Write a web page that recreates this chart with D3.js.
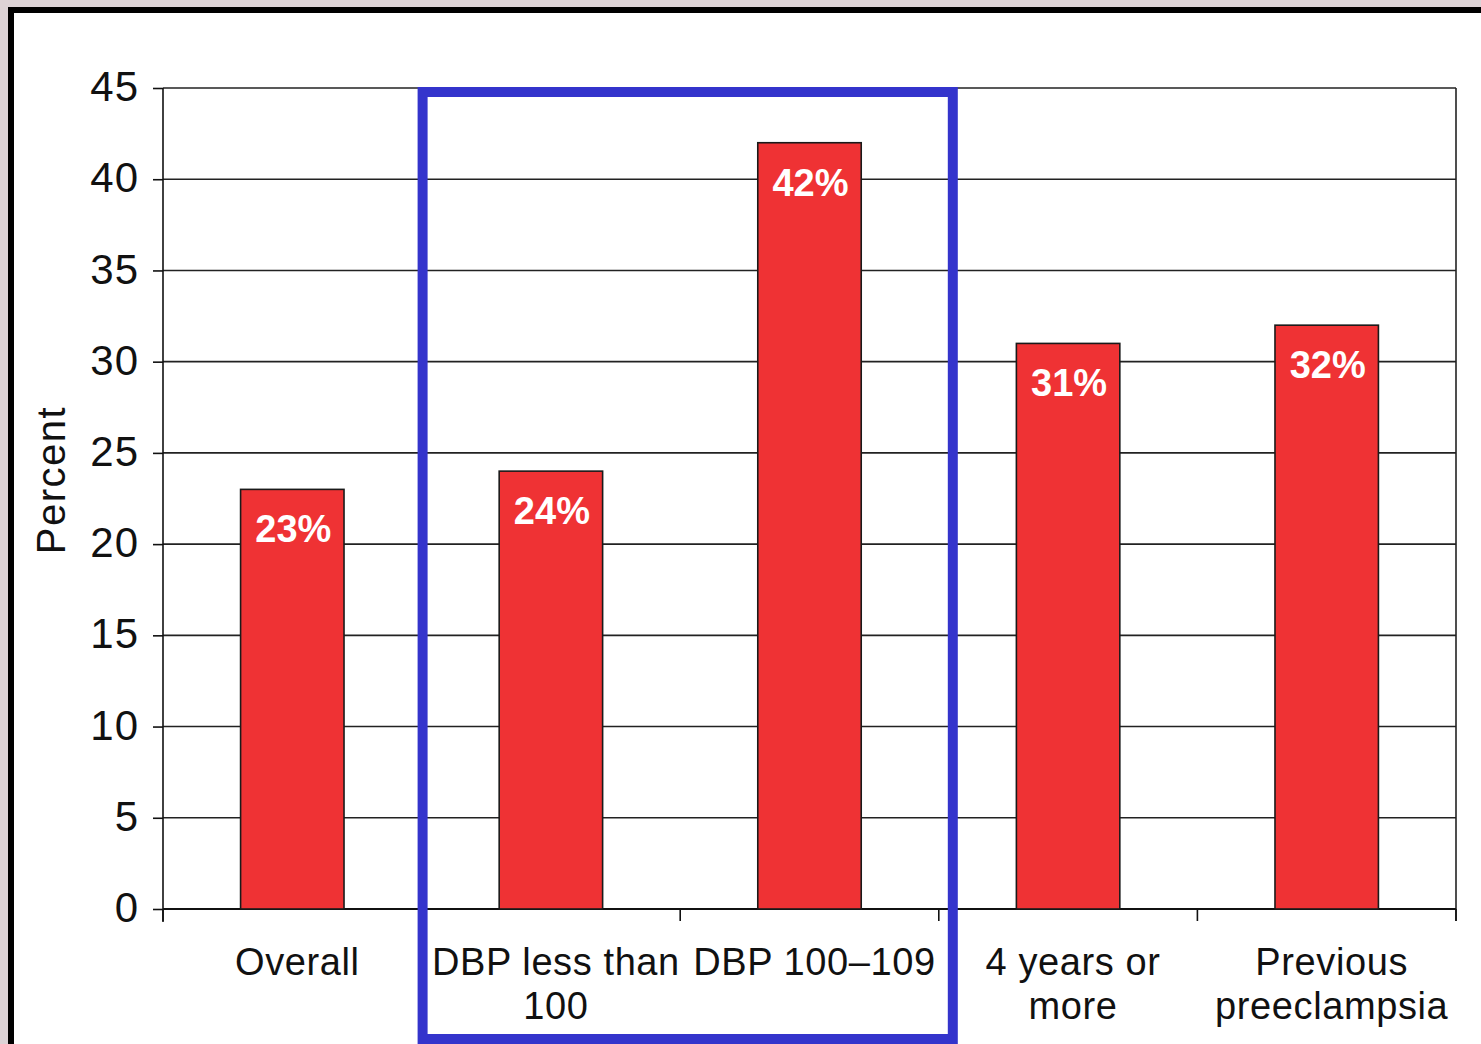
<!DOCTYPE html>
<html>
<head>
<meta charset="utf-8">
<script src="https://cdn.jsdelivr.net/npm/d3@7"></script>
<style>
  html, body { margin: 0; padding: 0; background: #ddd3d6; }
  svg { display: block; font-family: "Liberation Sans", Arial, sans-serif; }
</style>
</head>
<body>
<svg id="chart" width="1481" height="1044"></svg>
<script>
const categories = ["Overall", "DBP less than 100", "DBP 100\u2013109", "4 years or more", "Previous preeclampsia"];
const categoryLines = [["Overall"], ["DBP less than", "100"], ["DBP 100\u2013109"], ["4 years or", "more"], ["Previous", "preeclampsia"]];
const values = [23, 24, 42, 31, 32];
const valueLabels = ["23%", "24%", "42%", "31%", "32%"];
const yTicks = [0, 5, 10, 15, 20, 25, 30, 35, 40, 45];
const highlighted = ["DBP less than 100", "DBP 100\u2013109"];

(function () {
const svg = d3.select("#chart");
// white page with black frame (top and left)
svg.append("rect").attr("x", 8).attr("y", 7).attr("width", 1481).attr("height", 1100).attr("fill", "#000");
svg.append("rect").attr("x", 14).attr("y", 13).attr("width", 1481).attr("height", 1100).attr("fill", "#fff");

const pL = 163, pR = 1456, pT = 88, pB = 909;
const x = d3.scaleBand().domain(categories).range([pL, pR]).paddingInner(0.6).paddingOuter(0.3);
const xOuter = d3.scaleBand().domain(categories).range([pL, pR]);
const y = d3.scaleLinear().domain([0, 45]).range([pB, pT]);

// gridlines
svg.append("g").selectAll("line").data(yTicks).join("line")
  .attr("x1", pL).attr("x2", pR)
  .attr("y1", d => y(d)).attr("y2", d => y(d))
  .attr("stroke", "#222").attr("stroke-width", 1.6);

// right frame line
svg.append("line").attr("x1", pR).attr("x2", pR).attr("y1", pT).attr("y2", pB + 12)
  .attr("stroke", "#222").attr("stroke-width", 1.6);

// y axis
const yAxis = d3.axisLeft(y).tickValues(yTicks).tickSize(10).tickPadding(14);
const gy = svg.append("g").attr("transform", `translate(${pL},0)`).call(yAxis);
gy.select(".domain").remove();
gy.selectAll(".tick line").attr("stroke", "#111").attr("stroke-width", 1.6);
gy.selectAll(".tick text").attr("font-size", 42).attr("fill", "#111").attr("letter-spacing", 1)
  .attr("font-family", "'Liberation Sans', Arial, sans-serif").attr("dy", "0.30em");
svg.append("line").attr("x1", pL).attr("x2", pL).attr("y1", pT).attr("y2", pB + 13)
  .attr("stroke", "#111").attr("stroke-width", 1.6);

// x axis ticks at category boundaries
const boundaries = categories.map(c => xOuter(c)).concat([pR]);
svg.append("g").selectAll("line").data(boundaries).join("line")
  .attr("x1", d => d).attr("x2", d => d).attr("y1", pB).attr("y2", pB + 12)
  .attr("stroke", "#111").attr("stroke-width", 1.6);
svg.append("line").attr("x1", pL).attr("x2", pR).attr("y1", pB).attr("y2", pB)
  .attr("stroke", "#111").attr("stroke-width", 1.8);

// bars
svg.append("g").selectAll("rect").data(values).join("rect")
  .attr("x", (d, i) => x(categories[i]))
  .attr("y", d => y(d))
  .attr("width", x.bandwidth())
  .attr("height", d => pB - y(d))
  .attr("fill", "#ef3234").attr("stroke", "#1a1a1a").attr("stroke-width", 1.6);

// value labels
svg.append("g").selectAll("text").data(values).join("text")
  .attr("x", (d, i) => x(categories[i]) + x.bandwidth() / 2 + 1)
  .attr("y", d => y(d) + 53)
  .attr("text-anchor", "middle").attr("fill", "#fff").attr("font-weight", "bold")
  .attr("font-size", 38).text((d, i) => valueLabels[i]);

// category labels
const cl = svg.append("g").selectAll("text").data(categories).join("text")
  .attr("y", 975).attr("text-anchor", "middle").attr("font-size", 38).attr("fill", "#111")
  .attr("letter-spacing", 0.6);
cl.each(function(c, i) {
  d3.select(this).selectAll("tspan").data(categoryLines[i]).join("tspan")
    .attr("x", xOuter(c) + xOuter.bandwidth() / 2 + 5)
    .attr("dy", (d, j) => j === 0 ? 0 : 44).text(d => d);
});

// y title
svg.append("text").attr("transform", "translate(65,480) rotate(-90)")
  .attr("text-anchor", "middle").attr("font-size", 40).attr("letter-spacing", 1.5)
  .attr("fill", "#111").text("Percent");

// highlight box
const hx0 = xOuter(highlighted[0]), hx1 = xOuter(highlighted[1]) + xOuter.bandwidth();
svg.append("rect").attr("x", hx0 + 1).attr("y", 92)
  .attr("width", hx1 - hx0 + 13).attr("height", 947)
  .attr("fill", "none").attr("stroke", "#3434cc").attr("stroke-width", 10);
})();
</script>
</body>
</html>
